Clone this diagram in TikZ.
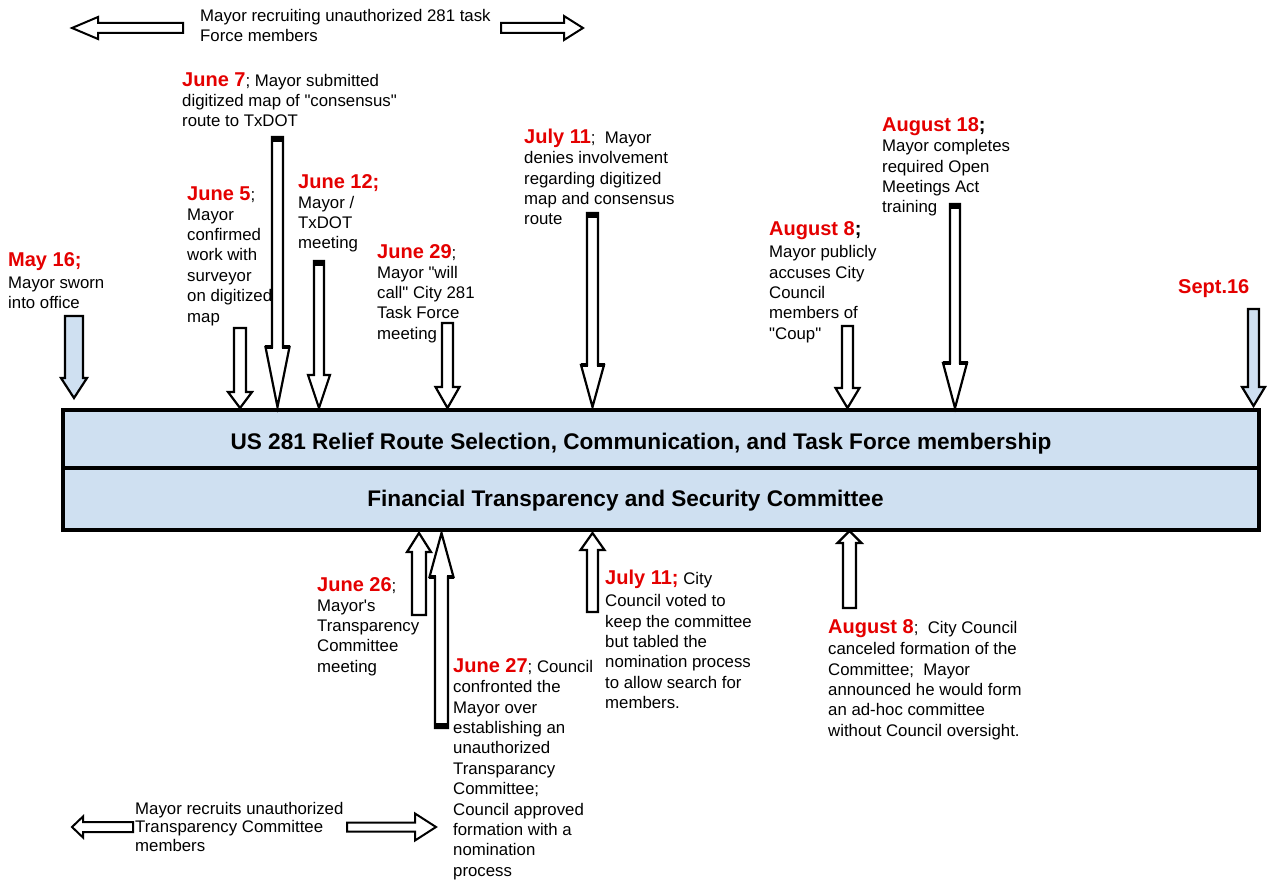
\documentclass[tikz,border=0pt]{standalone}
\usepackage{fontspec}
\setmainfont{Liberation Sans}
% family without TeX ligature mapping, so " and ' stay straight
\newfontfamily\tlfont{Liberation Sans}
\definecolor{tlred}{RGB}{228,0,0}
\definecolor{barblue}{RGB}{207,224,241}
\tikzset{
  blockarrow/.style={draw=black, line width=2.2pt, fill=white, line join=miter},
  bluearrow/.style={blockarrow, fill=barblue},
  harrow/.style={draw=black, line width=2pt, fill=white, line join=miter},
  thickcap/.style={line width=5.5pt, line cap=butt},
  txt/.style={anchor=north west, inner sep=0pt, align=left, font=\tlfont\fontsize{16.8}{20.4}\selectfont},
  bartxt/.style={anchor=base, inner sep=0pt, font=\tlfont\fontsize{22.6}{26}\selectfont\bfseries},
}
% first-line strut: node top lies 20pt above the first baseline
\newcommand\tlS{\rule{0pt}{20pt}}
\newcommand\tlDate[1]{{\color{tlred}\fontsize{20}{20.4}\selectfont\bfseries #1}}
% vertical block arrow: style, xc, yend, yhead, ytip, shaft half, head half
\newcommand\tlVArrow[7]{%
  \draw[#1] ({#2-#6},#3) -- ({#2+#6},#3) -- ({#2+#6},#4) -- ({#2+#7},#4) -- (#2,#5)
    -- ({#2-#7},#4) -- ({#2-#6},#4) -- cycle;}
% horizontal block arrow: style, yc, xend, xhead, xtip, shaft half, head half
\newcommand\tlHArrow[7]{%
  \draw[#1] (#3,{#2-#6}) -- (#4,{#2-#6}) -- (#4,{#2-#7}) -- (#5,#2) -- (#4,{#2+#7})
    -- (#4,{#2+#6}) -- (#3,{#2+#6}) -- cycle;}
% thick end cap: xc, y, shaft half
\newcommand\tlCap[3]{\draw[thickcap] ({#1-#3-1.1},#2) -- ({#1+#3+1.1},#2);}
% thick head-base corners: xc, yhead, shaft half, head half
\newcommand\tlCorners[4]{%
  \draw[line width=4.5pt] ({#1-#4-0.5},#2) -- ({#1-#3+1},#2);
  \draw[line width=4.5pt] ({#1+#3-1},#2) -- ({#1+#4+0.5},#2);}
\begin{document}
\begin{tikzpicture}[x=1pt,y=-1pt]
\useasboundingbox (0,0) rectangle (1273,888);

% ---- main bar ----
\draw[fill=barblue, line width=3.5pt] (63,410) rectangle (1259,530);
\draw[line width=4.5pt] (61.25,410) -- (1260.75,410);
\draw[line width=4.5pt] (61.25,468) -- (1260.75,468);
\node[bartxt] (bar1) at (641,449) {US 281 Relief Route Selection, Communication, and Task Force membership};
\node[bartxt] (bar2) at (625.5,506) {Financial Transparency and Security Committee};

% ---- top horizontal arrows ----
\tlHArrow{harrow}{28}{183}{98}{72}{5}{11}
\tlHArrow{harrow}{28}{501}{564}{583}{5}{12}
\node[txt] (recruit281) at (200,1) {\tlS Mayor recruiting unauthorized 281 task\\ Force members};

% ---- down arrows ----
\tlVArrow{bluearrow}{74}{316}{378}{398}{9}{13}
\tlVArrow{blockarrow}{240}{328}{392}{408}{6}{12}
\tlVArrow{blockarrow}{277.5}{137}{347}{407}{5.5}{12}
\tlCap{277.5}{139}{5.5}
\tlCorners{277.5}{347}{5.5}{12}
\tlVArrow{blockarrow}{319}{261}{375}{408}{5}{11}
\tlCap{319}{263}{5}
\tlVArrow{blockarrow}{447.5}{323}{387}{408}{5.5}{12}
\tlVArrow{blockarrow}{592.5}{213}{365}{407}{5.5}{11.5}
\tlCap{592.5}{215}{5.5}
\tlCorners{592.5}{365}{5.5}{11.5}
\tlVArrow{blockarrow}{847.5}{326}{388}{408}{5.5}{12}
\tlVArrow{blockarrow}{955}{204}{363}{408}{5}{12}
\tlCap{955}{206}{5}
\tlCorners{955}{363}{5}{12}
\tlVArrow{bluearrow}{1253.5}{309}{387}{406}{5.5}{11.5}

% ---- up arrows ----
\tlVArrow{blockarrow}{419}{615}{552}{533}{7}{12}
\tlVArrow{blockarrow}{441.5}{728}{577}{533}{6.5}{12}
\tlCap{441.5}{726}{6.5}
\tlCorners{441.5}{577}{6.5}{12}
\tlVArrow{blockarrow}{592.5}{612}{550}{533}{5.5}{12}
\tlVArrow{blockarrow}{849.5}{608}{543}{531}{6.5}{12}

% ---- top texts (y = first baseline - 20) ----
\node[txt] (may16) at (8,246) {\tlS\tlDate{May 16;}\\[1.5pt] Mayor sworn\\ into office};
\node[txt] (june7) at (182,66) {\tlS\tlDate{June 7}; Mayor submitted\\ digitized map of "consensus"\\ route to TxDOT};
\node[txt] (june5) at (187,180) {\tlS\tlDate{June 5};\\[-0.5pt] Mayor\\ confirmed\\ work with\\ surveyor\\ on digitized\\ map};
\node[txt] (june12) at (298,168) {\tlS\tlDate{June 12;}\\[-0.5pt] Mayor /\\ TxDOT\\ meeting};
\node[txt] (june29) at (377,238) {\tlS\tlDate{June 29};\\[-0.5pt] Mayor "will\\ call" City 281\\ Task Force\\ meeting};
\node[txt] (july11a) at (524,123) {\tlS\tlDate{July 11};\ \ Mayor\\ denies involvement\\ regarding digitized\\ map and consensus\\ route};
\node[txt] (aug18) at (882,111) {\tlS\tlDate{August 18}{\fontsize{20}{20}\selectfont\bfseries;}\\ Mayor completes\\ required Open\\ Meetings Act\\ training};
\node[txt] (aug8a) at (769,215) {\tlS\tlDate{August 8}{\fontsize{20}{20}\selectfont\bfseries;}\\[2pt] Mayor publicly\\ accuses City\\ Council\\ members of\\ "Coup"};
\node[txt] (sept16) at (1178,273) {\tlS\tlDate{Sept.16}};

% ---- bottom texts ----
\node[txt] (june26) at (317,571) {\tlS\tlDate{June 26};\\[-0.5pt] Mayor's\\ Transparency\\ Committee\\ meeting};
\node[txt] (june27) at (453,652) {\tlS\tlDate{June 27}; Council\\ confronted the\\ Mayor over\\ establishing an\\ unauthorized\\ Transparancy\\ Committee;\\ Council approved\\ formation with a\\ nomination\\ process};
\node[txt] (july11b) at (605,564) {\tlS\tlDate{July 11;} City\\[2pt] Council voted to\\ keep the committee\\ but tabled the\\ nomination process\\ to allow search for\\ members.};
\node[txt] (aug8b) at (828,613) {\tlS\tlDate{August 8};\ \ City Council\\[1pt] canceled formation of the\\ Committee;\ \ Mayor\\ announced he would form\\ an ad-hoc committee\\ without Council oversight.};

% ---- bottom horizontal arrows ----
\tlHArrow{harrow}{827}{133}{83}{72}{5}{10.5}
\tlHArrow{harrow}{827}{347}{415}{436}{4.5}{13.5}
\node[txt, font=\tlfont\fontsize{16.8}{18.5}\selectfont] (recruitTC) at (135,794) {\tlS Mayor recruits unauthorized\\ Transparency Committee\\ members};
\end{tikzpicture}
\end{document}
